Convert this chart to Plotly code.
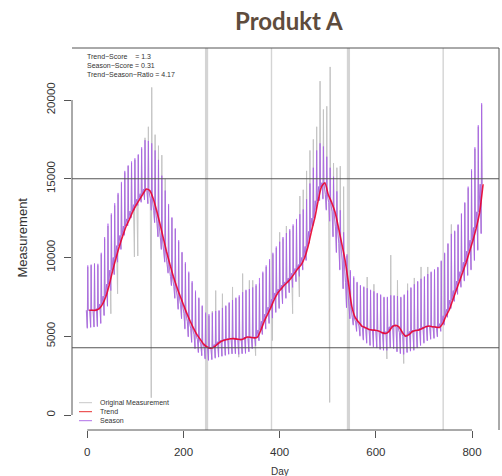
import plotly.graph_objects as go

# ---------------- data ----------------
week_day = list(range(4, 824, 7))  # anchor day of each week (4 .. 823)

trend = [
    6650, 6650, 6650, 6750, 7050, 7550, 8300, 9200, 10000, 10750,
    11400, 12000, 12450, 12950, 13350, 13700, 14050, 14350, 14250, 13750,
    13000, 12150, 11250, 10350, 9550, 8800, 8150, 7550, 7000, 6450,
    5950, 5500, 5100, 4800, 4500, 4320, 4240, 4300, 4480, 4650,
    4750, 4800, 4840, 4850, 4820, 4780, 4850, 4950, 4930, 4900,
    4950, 5400, 5950, 6400, 6850, 7350, 7750, 8000, 8250, 8450,
    8700, 9000, 9300, 9550, 10000, 10700, 11650, 12500, 13600, 14500,
    14750, 14000, 13500, 12900, 11950, 10900, 9830, 8400, 6900, 6200,
    5900, 5650, 5550, 5450, 5400, 5380, 5330, 5230, 5180, 5300,
    5600, 5690, 5600, 5250, 5000, 5100, 5300, 5370, 5400, 5500,
    5600, 5650, 5600, 5580, 5560, 5800, 6300, 6700, 7300, 7900,
    8500, 9100, 9700, 10400, 11100, 11900, 12900, 14650,
]

season_high = [
    9500, 9550, 9600, 9600, 10300, 11300, 12150, 12800, 13450, 14100,
    14800, 15500, 15850, 16100, 16300, 16550, 17000, 17450, 17400, 17250,
    16800, 16200, 15200, 14250, 13400, 12550, 11850, 11100, 10350, 9700,
    9100, 8500, 7900, 7450, 6950, 6500, 6400, 6500, 6600, 6650,
    6800, 6950, 7150, 7300, 7450, 7600, 7800, 7950, 8000, 8100,
    8300, 8700, 9100, 9500, 9900, 10300, 10700, 11000, 11300, 11550,
    11800, 12100, 12450, 12750, 13050, 13700, 14700, 15700, 16800, 17250,
    17050, 16400, 15700, 15130, 14200, 13000, 11600, 10200, 9200, 8800,
    8450, 8250, 8150, 8050, 7950, 7850, 7750, 7650, 7500, 7500,
    7600, 7600, 7550, 7500, 7650, 7900, 8100, 8300, 8500, 8650,
    8800, 8950, 9100, 9250, 9400, 9800, 10300, 10900, 11500, 11700,
    12100, 12800, 13500, 14500, 15600, 17000, 18400, 19800,
]

season_low = [
    5500, 5550, 5580, 5600, 5800, 6300, 6900, 7900, 8900, 9700,
    10500, 11400, 12000, 12500, 13000, 13300, 13500, 13650, 13400, 13000,
    12200, 11300, 10500, 9700, 9000, 8200, 7400, 6700, 6100, 5450,
    4950, 4600, 4200, 3950, 3750, 3550, 3460, 3500, 3600, 3670,
    3720, 3780, 3850, 3880, 3880, 3850, 3880, 3900, 4000, 4200,
    4400, 4700, 5100, 5450, 5800, 6150, 6500, 6750, 7050, 7400,
    7750, 8100, 8450, 8800, 9200, 9800, 10900, 12000, 13000, 13600,
    13700, 13000, 12300, 11300, 10300, 9200, 8000, 6800, 6100, 5700,
    5300, 5000, 4750, 4550, 4400, 4300, 4250, 4150, 4100, 4100,
    4250, 4200, 4000, 3880, 3850, 3950, 4050, 4100, 4250, 4400,
    4550, 4700, 4800, 4850, 4950, 5300, 5700, 6200, 6750, 7200,
    7650, 8100, 8500, 8850, 9200, 9800, 10450, 11500,
]

orig_high = [
    9400, 9500, 9650, 9500, 10200, 11200, 12000, 12700, 13300, 14000,
    14700, 15400, 15800, 16000, 16200, 16500, 16900, 17600, 18300, 20800,
    17800, 17100, 16500, 15000, 13300, 12500, 11800, 11000, 10300, 9600,
    9000, 8400, 7800, 7400, 6900, 6400, 6300, 6600, 7900, 6600,
    7700, 6900, 7100, 8130, 7400, 7500, 8980, 7900, 8550, 8550,
    8200, 8340, 9000, 9400, 9800, 10200, 10600, 11600, 11200, 12000,
    11700, 12000, 12400, 13900, 14300, 15500, 16800, 17500, 18300, 21200,
    19400, 19600, 22100, 16000, 15700, 15800, 14500, 10100, 9100, 8700,
    8400, 8200, 8100, 8760, 7900, 8300, 7700, 7600, 7450, 7450,
    10150, 7550, 8550, 7450, 7600, 8340, 8050, 8700, 8450, 9400,
    8750, 9400, 9050, 9200, 9350, 9750, 10250, 10850, 12100, 11650,
    12050, 12750, 13450, 14400, 15500, 16900, 18300, 19700,
]

orig_low = [
    5550, 5600, 5600, 5650, 5850, 6350, 6950, 6430, 8950, 7700,
    10550, 11450, 12050, 12550, 10040, 10100, 13550, 13700, 13450, 1100,
    12250, 11350, 10550, 9750, 9050, 8250, 7450, 6750, 6150, 5500,
    5000, 4650, 4250, 4000, 3800, 3600, 3500, 3550, 3650, 3700,
    3750, 3800, 3880, 3900, 3920, 3670, 3920, 3950, 4050, 4250,
    3770, 4750, 5150, 5500, 5850, 4730, 6550, 6800, 7100, 7450,
    7800, 6430, 8500, 7500, 9250, 9850, 10950, 12050, 13050, 13650,
    13750, 13050, 800, 11350, 10350, 9250, 8050, 6850, 6150, 5750,
    5350, 5050, 4800, 4600, 4450, 4350, 4300, 4200, 4150, 3560,
    4300, 4250, 4050, 3930, 3270, 4000, 4100, 4150, 4300, 4450,
    4600, 4750, 4850, 4900, 5000, 5350, 5750, 6250, 6800, 7250,
    7700, 8150, 8550, 8900, 9250, 9850, 10500, 11550,
]

event_days = [248, 383, 543, 740]
event_widths = [3.2, 1.4, 3.2, 1.4]          # style only
reference_levels = [15000, 4270]

x_ticks = [0, 200, 400, 600, 800]
y_ticks = [0, 5000, 10000, 15000, 20000]
y_tick_labels = ["0", "5000", "10000", "15000", "20000"]

title_text = "Produkt A"
score_lines = ["Trend\u2212Score    = 1.3",
               "Season\u2212Score = 0.31",
               "Trend\u2212Season\u2212Ratio = 4.17"]
legend_labels = ["Original Measurement", "Trend", "Season"]


def weekly_path(days, mids, lows, highs):
    """One weekly cycle: level -> low -> high -> level."""
    xs, ys = [], []
    for d, m, lo, hi in zip(days, mids, lows, highs):
        xs += [d - 6, d - 4, d - 3, d - 2]
        ys += [m, lo, hi, m]
    return xs, ys


# ---------------- figure ----------------
W, H = 502, 476
L, R, T, B = 72, 3, 48, 46
PW, PH = W - L - R, H - T - B


def px(x):
    return (x - L) / PW


def py(y):
    return 1 - (y - T) / PH


fig = go.Figure()

gx, gy = weekly_path(week_day, trend, orig_low, orig_high)
fig.add_trace(go.Scatter(x=gx, y=gy, mode="lines",
                         line=dict(color="#c4c4c4", width=1), hoverinfo="skip"))
sx, sy = weekly_path(week_day, trend, season_low, season_high)
fig.add_trace(go.Scatter(x=sx, y=sy, mode="lines", opacity=0.75,
                         line=dict(color="#a040f0", width=0.8), hoverinfo="skip"))
fig.add_trace(go.Scatter(x=week_day, y=trend, mode="lines",
                         line=dict(color="rgba(232,0,45,0.9)", width=1.6, shape="spline", smoothing=0.6),
                         hoverinfo="skip"))

shapes = []
for d, w in zip(event_days, event_widths):
    shapes.append(dict(type="line", xref="x", yref="paper", x0=d, x1=d, y0=0, y1=1,
                       line=dict(color="#d4d4d4", width=w), layer="below"))
for lv in reference_levels:
    shapes.append(dict(type="line", xref="paper", yref="y", x0=0, x1=1, y0=lv, y1=lv,
                       line=dict(color="#555555", width=1)))
# axis lines (R style: between first and last tick) and box edges
shapes.append(dict(type="line", xref="x", yref="paper", x0=x_ticks[0], x1=x_ticks[-1], y0=0, y1=0,
                   line=dict(color="#555555", width=1)))
shapes.append(dict(type="line", xref="paper", yref="y", x0=0, x1=0, y0=y_ticks[0], y1=y_ticks[-1],
                   line=dict(color="#555555", width=1)))
shapes.append(dict(type="line", xref="paper", yref="paper", x0=0, x1=1, y0=1, y1=1,
                   line=dict(color="#555555", width=1)))
shapes.append(dict(type="line", xref="paper", yref="paper", x0=1, x1=1, y0=0, y1=1,
                   line=dict(color="#555555", width=1)))

# legend samples
leg_colors = ["#c8c8c8", "#e83030", "#b070e8"]
leg_y = [402.7, 411.7, 420.7]
annotations = []
for lab, col, yy in zip(legend_labels, leg_colors, leg_y):
    shapes.append(dict(type="line", xref="paper", yref="paper", x0=px(79), x1=px(92),
                       y0=py(yy), y1=py(yy), line=dict(color=col, width=1)))
    annotations.append(dict(text=lab, xref="paper", yref="paper", x=px(98), y=py(yy),
                            xanchor="left", yanchor="middle", showarrow=False,
                            font=dict(family="Liberation Sans", size=7, color="#333333")))

for txt, yy in zip(score_lines, [56.7, 65.7, 74.7]):
    annotations.append(dict(text=txt, xref="paper", yref="paper", x=px(85), y=py(yy),
                            xanchor="left", yanchor="middle", showarrow=False,
                            font=dict(family="Liberation Sans", size=7, color="#333333")))

annotations.append(dict(text="<b>" + title_text + "</b>", xref="paper", yref="paper",
                        x=px(288.5), y=py(21), xanchor="center", yanchor="middle", showarrow=False,
                        font=dict(family="Lato", size=24, color="#5e4c3d")))
annotations.append(dict(text="Day", xref="paper", yref="paper", x=px(279.5), y=py(471),
                        xanchor="center", yanchor="middle", showarrow=False,
                        font=dict(family="Liberation Sans", size=10, color="#333333")))
annotations.append(dict(text="Measurement", xref="paper", yref="paper", x=px(21.5), y=py(238),
                        xanchor="center", yanchor="middle", showarrow=False, textangle=-90,
                        font=dict(family="Liberation Sans", size=13, color="#333333")))

fig.update_layout(
    width=W, height=H, margin=dict(l=L, r=R, t=T, b=B),
    paper_bgcolor="white", plot_bgcolor="white", showlegend=False,
    shapes=shapes, annotations=annotations,
    xaxis=dict(range=[-31.8, 856.1], tickvals=x_ticks, ticks="outside", ticklen=7,
               tickcolor="#555555", showgrid=False, zeroline=False, showline=False,
               tickfont=dict(family="Liberation Sans", size=11.5, color="#333333"),
               ticklabelstandoff=4),
    yaxis=dict(range=[-952, 23302], tickvals=y_ticks, ticktext=y_tick_labels,
               ticks="outside", ticklen=7,
               tickcolor="#555555", showgrid=False, zeroline=False, showline=False,
               tickangle=-90,
               tickfont=dict(family="Liberation Sans", size=11.5, color="#333333"),
               ticklabelstandoff=4),
)

fig.write_html("out.html", config={"displayModeBar": False},
               post_script="document.body.style.margin='0';")
